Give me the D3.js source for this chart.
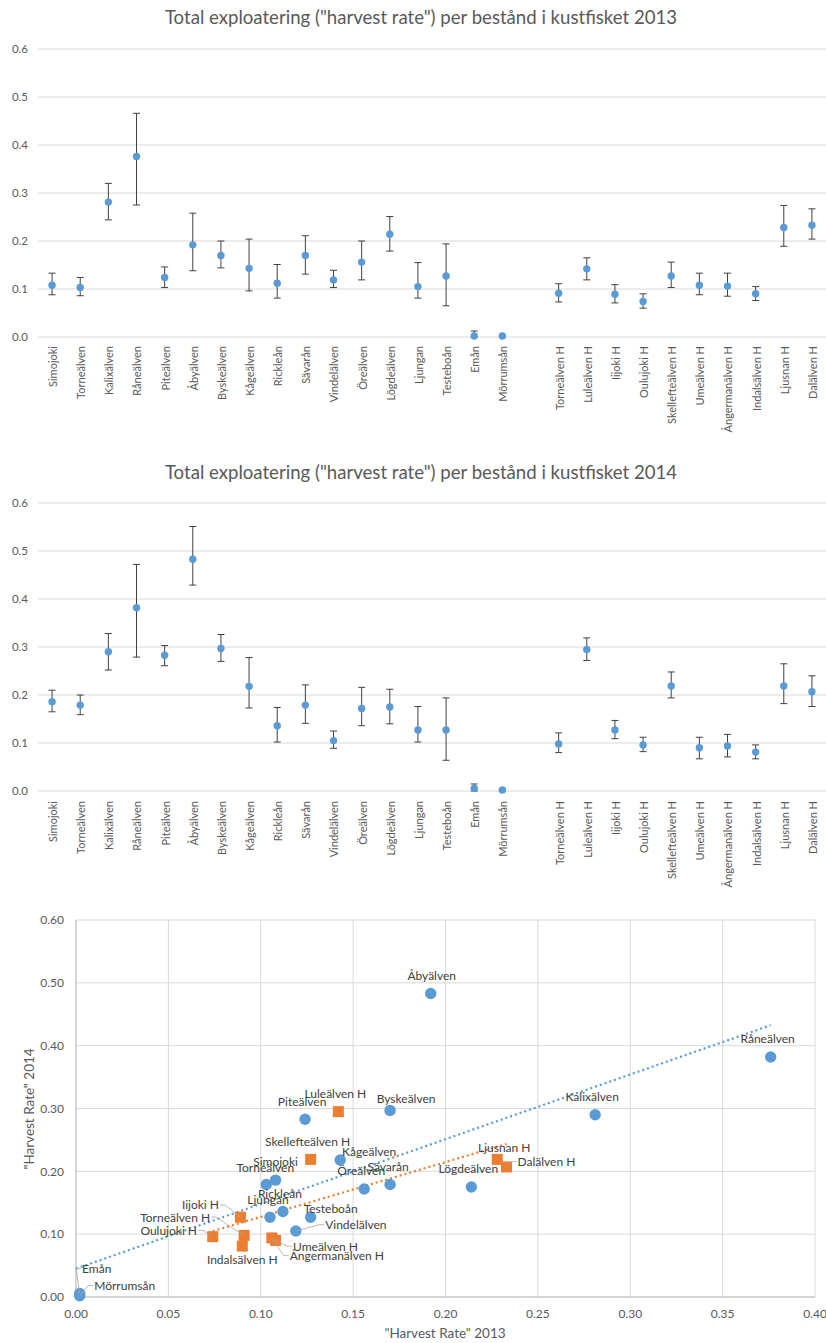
<!DOCTYPE html>
<html>
<head>
<meta charset="utf-8">
<script src="https://cdn.jsdelivr.net/npm/d3@7"></script>
<style>
  body { margin: 0; background: #fff; }
  svg { display: block; font-family: Lato, "Open Sans", sans-serif; }
</style>
</head>
<body>
<svg id="chart" width="826" height="1343"></svg>
<script>
// stocks, in the order of the strip charts (blank slot between wild and hatchery)
var wildStocks = ["Simojoki", "Torneälven", "Kalixälven", "Råneälven", "Piteälven", "Åbyälven",
  "Byskeälven", "Kågeälven", "Rickleån", "Sävarån", "Vindelälven", "Öreälven", "Lögdeälven",
  "Ljungan", "Testeboån", "Emån", "Mörrumsån"];
var hatchStocks = ["Torneälven H", "Luleälven H", "Iijoki H", "Oulujoki H", "Skellefteälven H",
  "Umeälven H", "Ångermanälven H", "Indalsälven H", "Ljusnan H", "Dalälven H"];

// harvest rate 2013 with lower / upper interval
var rate2013 = [0.108, 0.103, 0.281, 0.376, 0.124, 0.192, 0.170, 0.143, 0.112, 0.170, 0.119, 0.156, 0.214,
  0.105, 0.127, 0.002, 0.002,
  0.091, 0.142, 0.089, 0.074, 0.127, 0.108, 0.106, 0.090, 0.228, 0.233];
var lo2013 = [0.088, 0.086, 0.244, 0.275, 0.103, 0.138, 0.144, 0.096, 0.081, 0.131, 0.103, 0.119, 0.179,
  0.081, 0.065, 0.000, 0.000,
  0.073, 0.119, 0.071, 0.060, 0.103, 0.088, 0.085, 0.076, 0.189, 0.204];
var hi2013 = [0.133, 0.124, 0.320, 0.466, 0.146, 0.258, 0.200, 0.204, 0.151, 0.211, 0.139, 0.200, 0.251,
  0.155, 0.194, 0.0125, 0.004,
  0.111, 0.165, 0.109, 0.090, 0.156, 0.133, 0.133, 0.105, 0.274, 0.267];

// harvest rate 2014 with lower / upper interval
var rate2014 = [0.186, 0.179, 0.290, 0.382, 0.283, 0.483, 0.297, 0.218, 0.136, 0.179, 0.105, 0.172, 0.175,
  0.127, 0.127, 0.0055, 0.002,
  0.098, 0.295, 0.127, 0.096, 0.219, 0.090, 0.094, 0.081, 0.219, 0.207];
var lo2014 = [0.165, 0.159, 0.252, 0.279, 0.261, 0.429, 0.270, 0.173, 0.102, 0.141, 0.089, 0.136, 0.140,
  0.102, 0.064, 0.000, 0.000,
  0.080, 0.272, 0.109, 0.082, 0.194, 0.067, 0.071, 0.067, 0.182, 0.176];
var hi2014 = [0.210, 0.200, 0.328, 0.472, 0.303, 0.551, 0.326, 0.278, 0.174, 0.221, 0.125, 0.216, 0.212,
  0.176, 0.194, 0.0146, 0.004,
  0.121, 0.319, 0.147, 0.112, 0.248, 0.112, 0.118, 0.096, 0.265, 0.240];

var stripTicks = [0, 0.1, 0.2, 0.3, 0.4, 0.5, 0.6];
var scatterXTicks = [0, 0.05, 0.1, 0.15, 0.2, 0.25, 0.3, 0.35, 0.4];
var scatterYTicks = [0, 0.1, 0.2, 0.3, 0.4, 0.5, 0.6];

// label placement in the scatter (offsets from the point, leader line yes/no)
var labelDx = [0, -1, -3, -3, -3, 1, 16, 29, -3, -2, 60, -3, -3, -2, 20, 17, 45,
  -69, -3, -40, -44, -3, 50, 65, 0, 7, 40];
var labelDy = [-18, -17, -18, -18, -17, -18, -12, -8, -18, -18, -6, -18, -18, -17, -8, -25, -10,
  -18, -18, -12, -6, -18, 6, 18, 14, -12, -5];
var labelLeader = [0, 0, 0, 0, 0, 0, 0, 0, 0, 0, 1, 0, 0, 0, 0, 1, 1,
  1, 0, 1, 1, 0, 1, 1, 0, 0, 1];

var blue = "#5B9BD5", orange = "#ED7D31", grid = "#d9d9d9", txt = "#595959";

var svg = d3.select("#chart");
var categories = wildStocks.concat([""]).concat(hatchStocks);

function valueAt(arr, i) {
  // arrays skip the blank slot
  if (i < wildStocks.length) return arr[i];
  if (i === wildStocks.length) return null;
  return arr[i - 1];
}

function strip(title, titleY, yBottom, yTop, labelY, vals, lo, hi) {
  var g = svg.append("g");
  var x = d3.scaleBand().domain(d3.range(categories.length)).range([38, 826]);
  var y = d3.scaleLinear().domain([0, 0.6]).range([yBottom, yTop]);
  var cx = function(i) { return x(i) + x.bandwidth() / 2; };

  g.append("text").attr("x", 421).attr("y", titleY).attr("text-anchor", "middle")
    .attr("dominant-baseline", "middle").attr("fill", txt).style("font-size", "18.6px").text(title);

  g.selectAll(".grid").data(stripTicks).enter().append("line")
    .attr("x1", 38).attr("x2", 826).attr("y1", function(d) { return y(d); }).attr("y2", function(d) { return y(d); })
    .attr("stroke", grid).attr("stroke-width", 1);

  g.selectAll(".tick").data(stripTicks).enter().append("text")
    .attr("x", 28).attr("y", function(d) { return y(d); }).attr("dy", "0.35em")
    .attr("text-anchor", "end").attr("fill", txt).style("font-size", "11.5px")
    .text(d3.format(".1f"));

  g.selectAll(".cat").data(categories).enter().append("text")
    .attr("transform", function(d, i) { return "translate(" + (cx(i) + 1) + "," + labelY + ") rotate(-90)"; })
    .attr("dy", "0.35em").attr("text-anchor", "end").attr("fill", txt).style("font-size", "11px")
    .text(function(d) { return d; });

  var idx = d3.range(categories.length).filter(function(i) { return valueAt(vals, i) !== null; });
  var bars = g.selectAll(".err").data(idx).enter().append("g").attr("stroke", "#404040").attr("stroke-width", 1);
  bars.append("line").attr("x1", cx).attr("x2", cx)
    .attr("y1", function(i) { return y(valueAt(lo, i)); }).attr("y2", function(i) { return y(valueAt(hi, i)); });
  bars.append("line").attr("x1", function(i) { return cx(i) - 3.5; }).attr("x2", function(i) { return cx(i) + 3.5; })
    .attr("y1", function(i) { return y(valueAt(lo, i)); }).attr("y2", function(i) { return y(valueAt(lo, i)); });
  bars.append("line").attr("x1", function(i) { return cx(i) - 3.5; }).attr("x2", function(i) { return cx(i) + 3.5; })
    .attr("y1", function(i) { return y(valueAt(hi, i)); }).attr("y2", function(i) { return y(valueAt(hi, i)); });

  g.selectAll(".dot").data(idx).enter().append("circle")
    .attr("cx", cx).attr("cy", function(i) { return y(valueAt(vals, i)); }).attr("r", 3.7).attr("fill", blue);
}

strip('Total exploatering ("harvest rate") per bestånd i kustfisket 2013', 19, 337, 49, 346, rate2013, lo2013, hi2013);
strip('Total exploatering ("harvest rate") per bestånd i kustfisket 2014', 474, 791, 503, 801, rate2014, lo2014, hi2014);

// ---- scatter 2013 vs 2014 ----
var sx = d3.scaleLinear().domain([0, 0.4]).range([76, 815]);
var sy = d3.scaleLinear().domain([0, 0.6]).range([1297, 920]);
var sg = svg.append("g");

sg.selectAll(".vg").data(scatterXTicks).enter().append("line")
  .attr("x1", function(d) { return sx(d); }).attr("x2", function(d) { return sx(d); })
  .attr("y1", sy(0)).attr("y2", sy(0.6)).attr("stroke", grid);
sg.selectAll(".hg").data(scatterYTicks).enter().append("line")
  .attr("x1", sx(0)).attr("x2", sx(0.4))
  .attr("y1", function(d) { return sy(d); }).attr("y2", function(d) { return sy(d); }).attr("stroke", grid);
sg.append("line").attr("x1", sx(0)).attr("x2", sx(0.4)).attr("y1", sy(0)).attr("y2", sy(0)).attr("stroke", "#bfbfbf");
sg.append("line").attr("x1", sx(0)).attr("x2", sx(0)).attr("y1", sy(0)).attr("y2", sy(0.6)).attr("stroke", "#bfbfbf");

sg.selectAll(".xt").data(scatterXTicks).enter().append("text")
  .attr("x", function(d) { return sx(d); }).attr("y", 1314).attr("dy", "0.35em").attr("text-anchor", "middle")
  .attr("fill", txt).style("font-size", "12px").text(d3.format(".2f"));
sg.selectAll(".yt").data(scatterYTicks).enter().append("text")
  .attr("x", 64).attr("y", function(d) { return sy(d); }).attr("dy", "0.35em").attr("text-anchor", "end")
  .attr("fill", txt).style("font-size", "12px").text(d3.format(".2f"));

sg.append("text").attr("x", 445).attr("y", 1333).attr("dy", "0.35em").attr("text-anchor", "middle")
  .attr("fill", txt).style("font-size", "13.5px").text('"Harvest Rate" 2013');
sg.append("text").attr("transform", "translate(29,1109) rotate(-90)").attr("dy", "0.35em").attr("text-anchor", "middle")
  .attr("fill", txt).style("font-size", "13.5px").text('"Harvest Rate" 2014');

var nW = wildStocks.length;
var points = rate2013.map(function(v, i) {
  return { name: i < nW ? wildStocks[i] : hatchStocks[i - nW], x: v, y: rate2014[i], wild: i < nW, i: i };
});

function trend(pts, x0, x1) {
  var mx = d3.mean(pts, function(p) { return p.x; }), my = d3.mean(pts, function(p) { return p.y; });
  var b = d3.sum(pts, function(p) { return (p.x - mx) * (p.y - my); }) / d3.sum(pts, function(p) { return (p.x - mx) * (p.x - mx); });
  var a = my - b * mx;
  return [[x0, a + b * x0], [x1, a + b * x1]];
}
var wildPts = points.filter(function(p) { return p.wild; });
var hatchPts = points.filter(function(p) { return !p.wild; });
var line = d3.line().x(function(d) { return sx(d[0]); }).y(function(d) { return sy(d[1]); });
sg.append("path").attr("d", line(trend(wildPts, 0, d3.max(wildPts, function(p) { return p.x; }))))
  .attr("stroke", blue).attr("stroke-width", 2.2).attr("stroke-dasharray", "2,3").attr("fill", "none");
sg.append("path").attr("d", line(trend(hatchPts, d3.min(hatchPts, function(p) { return p.x; }), d3.max(hatchPts, function(p) { return p.x; }))))
  .attr("stroke", orange).attr("stroke-width", 2.2).attr("stroke-dasharray", "2,3").attr("fill", "none");

sg.selectAll(".wp").data(wildPts).enter().append("circle")
  .attr("cx", function(p) { return sx(p.x); }).attr("cy", function(p) { return sy(p.y); }).attr("r", 5.7).attr("fill", blue);
sg.selectAll(".hp").data(hatchPts).enter().append("rect")
  .attr("x", function(p) { return sx(p.x) - 5.5; }).attr("y", function(p) { return sy(p.y) - 5.5; })
  .attr("width", 11).attr("height", 11).attr("fill", orange);

var labels = sg.selectAll(".lab").data(points).enter().append("text")
  .attr("x", function(p) { return sx(p.x) + labelDx[p.i]; }).attr("y", function(p) { return sy(p.y) + labelDy[p.i]; })
  .attr("dy", "0.35em").attr("text-anchor", "middle").attr("fill", "#404040").style("font-size", "12px")
  .text(function(p) { return p.name; });

// leader lines from label edge to its point
labels.each(function(p) {
  if (!labelLeader[p.i]) return;
  var bb = this.getBBox();
  var px = sx(p.x), py = sy(p.y);
  var left = px < bb.x + bb.width / 2;
  var ex = left ? bb.x - 1 : bb.x + bb.width + 1;
  var ey = bb.y + bb.height / 2;
  var stub = left ? ex - 5 : ex + 5;
  sg.append("path").attr("d", "M" + ex + "," + ey + "L" + stub + "," + ey + "L" + px + "," + py)
    .attr("stroke", "#a6a6a6").attr("stroke-width", 0.8).attr("fill", "none");
});
</script>
</body>
</html>
